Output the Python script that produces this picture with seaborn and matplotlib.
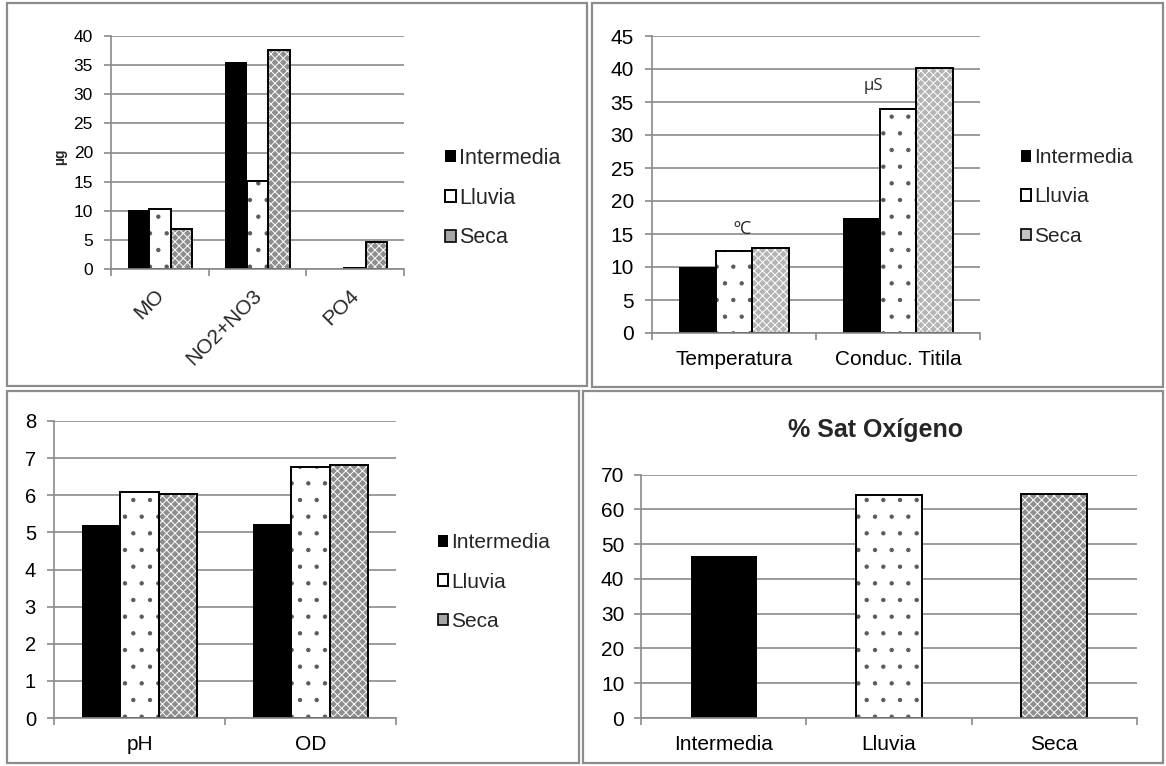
import numpy as np
import pandas as pd
import matplotlib
matplotlib.use('Agg')
import matplotlib.pyplot as plt
import matplotlib.transforms as mtransforms
import seaborn as sns
from matplotlib.patches import Rectangle
from matplotlib.ticker import MultipleLocator

# ---------------- data ----------------
series = ['Intermedia', 'Lluvia', 'Seca']

nut_cats = ['MO', 'NO2+NO3', 'PO4']
nut_inter = [10.1, 35.6, 0.05]
nut_lluvia = [10.3, 15.1, 0.15]
nut_seca = [6.8, 37.6, 4.7]

fis_cats = ['Temperatura', 'Conduc. Titila']
fis_inter = [10.0, 17.5]
fis_lluvia = [12.4, 34.0]
fis_seca = [12.9, 40.1]

qui_cats = ['pH', 'OD']
qui_inter = [5.2, 5.23]
qui_lluvia = [6.1, 6.77]
qui_seca = [6.03, 6.82]

sat_cats = ['Intermedia', 'Lluvia', 'Seca']
sat_vals = [46.5, 64.0, 64.4]

# ---------------- style ----------------
sns.set_theme(style='white')
plt.rcParams['font.family'] = ['Liberation Sans', 'DejaVu Sans']
plt.rcParams['hatch.linewidth'] = 0.7

GRID = '#8a8a8a'
W, H = 1166, 766
fig = plt.figure(figsize=(W / 100, H / 100), dpi=100)


def ax_at(l, t, r, b):
    return fig.add_axes([l / W, 1 - b / H, (r - l) / W, (b - t) / H])


def long(cats, a, b, c):
    return pd.DataFrame({
        'cat': cats * 3,
        'serie': [s for s in series for _ in cats],
        'val': list(a) + list(b) + list(c),
    })


def outline(ax, p):
    ax.add_patch(Rectangle((p.get_x(), p.get_y()), p.get_width(),
                           p.get_height(), fill=False, edgecolor='black',
                           linewidth=1.4, zorder=p.get_zorder() + 0.1))


def style_patch(ax, p, s, seca_col):
    if s == 'Intermedia':
        p.set_facecolor('black')
        p.set_edgecolor('black')
        p.set_linewidth(0)
    elif s == 'Lluvia':
        p.set_facecolor('white')
        p.set_edgecolor('#5a5a5a')
        p.set_hatch('.')
        p.set_linewidth(0)
        outline(ax, p)
    else:
        p.set_facecolor(seca_col)
        p.set_edgecolor('white')
        p.set_hatch('xxxx')
        p.set_linewidth(0)
        outline(ax, p)


def style_axes(ax, n, ymax, step, yfs, xfs, xpad, ypad=8):
    ax.set_ylim(0, ymax)
    ax.set_xlim(-0.5, n - 0.5)
    ax.yaxis.set_major_locator(MultipleLocator(step))
    ax.grid(axis='y', color=GRID, linewidth=1.2)
    ax.grid(axis='x', visible=False)
    ax.set_axisbelow(True)
    for sp in ['top', 'right']:
        ax.spines[sp].set_visible(False)
    for sp in ['left', 'bottom']:
        ax.spines[sp].set_color(GRID)
        ax.spines[sp].set_linewidth(1.2)
    ax.set_xticks(np.arange(-0.5, n), minor=True)
    ax.tick_params(axis='x', which='major', bottom=True, length=0,
                   labelsize=xfs, pad=xpad, colors='black')
    ax.tick_params(axis='x', which='minor', bottom=True, length=5,
                   color=GRID, width=1.2, direction='out')
    ax.tick_params(axis='y', which='major', left=True, length=5, color=GRID,
                   width=1.2, labelsize=yfs, pad=ypad, labelcolor='black')
    ax.set_xlabel('')
    ax.set_ylabel('')


def grouped(ax, df, cats, width, seca_col):
    sns.barplot(data=df, x='cat', y='val', hue='serie', hue_order=series,
                order=cats, width=width, errorbar=None, legend=False, ax=ax)
    for cont, s in zip(ax.containers, series):
        for p in list(cont.patches):
            style_patch(ax, p, s, seca_col)


def add_legend(ax, x, y, fs, seca_col, spacing=0.98):
    handles = [
        Rectangle((0, 0), 1, 1, facecolor='black', edgecolor='black', linewidth=0),
        Rectangle((0, 0), 1, 1, facecolor='white', edgecolor='black', linewidth=1.4),
        Rectangle((0, 0), 1, 1, facecolor=seca_col, edgecolor='black', linewidth=1.2),
    ]
    ax.legend(handles, series, loc='center left',
              bbox_to_anchor=(x / W, 1 - y / H), bbox_transform=fig.transFigure,
              frameon=False, fontsize=fs, handlelength=0.5, handleheight=0.5,
              handletextpad=0.15, labelspacing=spacing, borderpad=0, borderaxespad=0)


SECA_DARK = '#8e8e8e'
SECA_LIGHT = '#b4b4b4'
LEG_DARK = '#a6a6a6'
LEG_LIGHT = '#c4c4c4'

# ---- top left: nutrients ----
ax1 = ax_at(111, 36, 404, 269)
grouped(ax1, long(nut_cats, nut_inter, nut_lluvia, nut_seca), nut_cats, 0.66, SECA_DARK)
style_axes(ax1, len(nut_cats), 40, 5, 12.5, 15, 7)
ax1.set_xticklabels([])
lab_tr = mtransforms.blended_transform_factory(ax1.transData, ax1.transAxes) + \
    mtransforms.ScaledTranslation(-5.5 / 100, -16.5 / 100, fig.dpi_scale_trans)
for i, c in enumerate(nut_cats):
    ax1.text(i, 0, c, transform=lab_tr, rotation=45, ha='right', va='top',
             rotation_mode='anchor', fontsize=15)
add_legend(ax1, 445, 198, 15.5, LEG_DARK, spacing=0.88)
fig.text(60 / W, 1 - 157 / H, 'µg', rotation=90, fontsize=10,
         fontweight='bold', ha='center', va='center')

# ---- top right: physical ----
ax2 = ax_at(652, 36, 980, 333)
grouped(ax2, long(fis_cats, fis_inter, fis_lluvia, fis_seca), fis_cats, 0.665, SECA_LIGHT)
style_axes(ax2, len(fis_cats), 45, 5, 15, 15, 12)
add_legend(ax2, 1021, 197, 15, LEG_LIGHT)
ax2.text(0.05, 15.7, 'ºC', ha='center', va='center', fontsize=13,
         family=['Open Sans', 'DejaVu Sans'])
ax2.text(0.85, 37.5, 'µS', ha='center', va='center', fontsize=12,
         family=['Open Sans', 'DejaVu Sans'])

# ---- bottom left: pH / OD ----
ax3 = ax_at(54, 421, 396, 718)
grouped(ax3, long(qui_cats, qui_inter, qui_lluvia, qui_seca), qui_cats, 0.667, SECA_DARK)
style_axes(ax3, len(qui_cats), 8, 1, 14.5, 15, 12)
add_legend(ax3, 438, 582, 15, LEG_DARK)

# ---- bottom right: % saturation ----
ax4 = ax_at(641, 474.6, 1137, 718)
sat_df = pd.DataFrame({'serie': sat_cats, 'val': sat_vals})
sns.barplot(data=sat_df, x='serie', y='val', hue='serie', hue_order=series,
            order=sat_cats, width=0.4, dodge=False, errorbar=None,
            legend=False, ax=ax4)
for cont in ax4.containers:
    for p in list(cont.patches):
        x = p.get_x() + p.get_width() / 2
        style_patch(ax4, p, series[int(round(x))], SECA_DARK)
style_axes(ax4, len(sat_cats), 70, 10, 15, 15, 12, ypad=7)
ax4.set_title('% Sat Oxígeno', fontsize=18, fontweight='bold',
              x=0.472, pad=27)

# ---- panel borders ----
for (l, t, r, b) in [(7, 3, 587, 386), (592, 3, 1163, 387),
                     (7, 391, 579, 763), (583, 391, 1163, 763)]:
    fig.patches.append(Rectangle((l / W, 1 - b / H), (r - l) / W, (b - t) / H,
                                 transform=fig.transFigure, fill=False,
                                 edgecolor='#8c8c8c', linewidth=1.6))

fig.savefig('out.png', dpi=100, facecolor='white')
